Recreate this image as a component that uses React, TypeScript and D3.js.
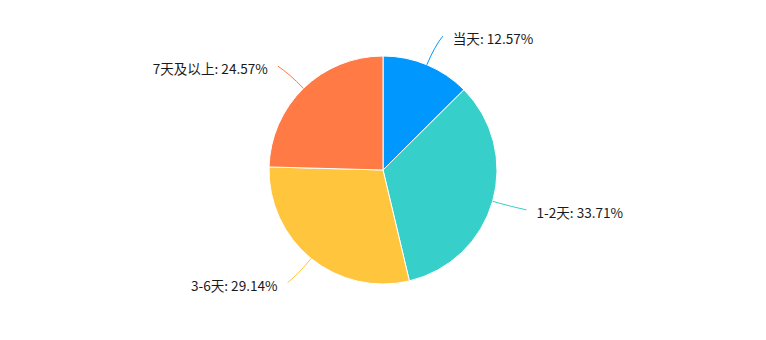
import React from "react";
import * as d3 from "d3";

const categories = ["当天", "1-2天", "3-6天", "7天及以上"];
const values = [12.57, 33.71, 29.14, 24.57];
const colors = ["#0098FF", "#36CFC9", "#FFC53D", "#FF7A45"];

const W = 766;
const H = 340;
const cx = 383;
const cy = 170;
const R = 114;

export default function App() {
  const pie = d3.pie<number>().sort(null).value((d) => d);
  const arcs = pie(values);
  const arc = d3.arc<d3.PieArcDatum<number>>().innerRadius(0).outerRadius(R);
  const pt = (a: number, r: number): [number, number] => [Math.sin(a) * r, -Math.cos(a) * r];

  return (
    <svg width={W} height={H} style={{ position: "absolute", left: 0, top: 0 }}>
      <rect width={W} height={H} fill="#fff" />
      <g transform={`translate(${cx},${cy})`}>
        {arcs.map((a, i) => (
          <path key={i} d={arc(a) || ""} fill={colors[i]} stroke="#fff" strokeWidth={1} />
        ))}
        {arcs.map((a, i) => {
          const mid = (a.startAngle + a.endAngle) / 2;
          const right = Math.sin(mid) >= 0;
          const p0 = pt(mid, R);
          const p1 = pt(mid, R + 20);
          const p2r = pt(mid, R + 31);
          const p2: [number, number] = [p2r[0] + (right ? 4 : -4), p2r[1]];
          const path = d3.path();
          path.moveTo(p0[0], p0[1]);
          path.quadraticCurveTo(p1[0], p1[1], p2[0], p2[1]);
          return (
            <g key={"l" + i}>
              <path d={path.toString()} fill="none" stroke={colors[i]} strokeWidth={1} />
              <text
                x={p2[0] + (right ? 10 : -10)}
                y={p2[1] + 3.5}
                dy="0.35em"
                textAnchor={right ? "start" : "end"}
                fontFamily="'Noto Sans CJK SC', 'Noto Sans', sans-serif"
                fontSize={13.6}
                fill="#1a1a1a"
              >
                {`${categories[i]}: ${values[i].toFixed(2)}%`}
              </text>
            </g>
          );
        })}
      </g>
    </svg>
  );
}
